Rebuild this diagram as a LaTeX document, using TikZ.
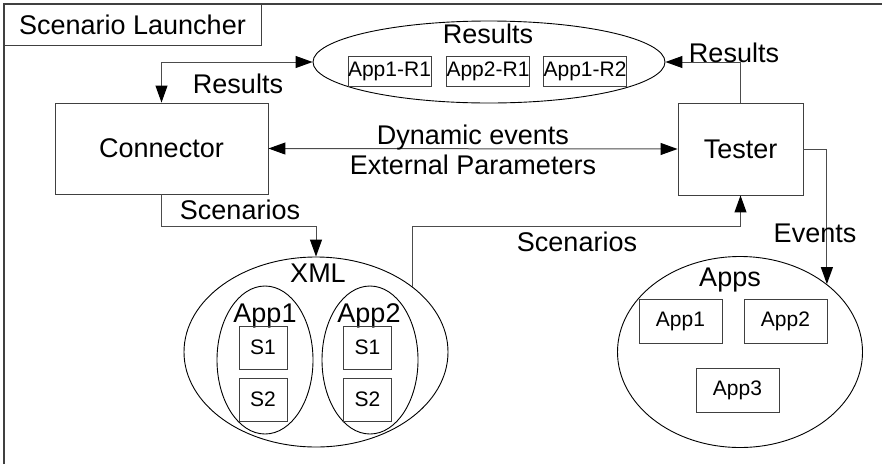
\documentclass[tikz,border=0pt]{standalone}
\usepackage{fontspec}
\setmainfont{Liberation Sans}
\usetikzlibrary{shapes.geometric,arrows.meta}

\tikzset{
  box/.style={draw=black!75, line width=0.9pt, inner sep=0pt},
  ell/.style={ellipse, draw, line width=0.9pt, inner sep=0pt},
  big/.style={font=\fontsize{27}{32}\selectfont},
  small/.style={font=\fontsize{21}{25}\selectfont},
  lbl/.style={big, anchor=base, inner sep=0pt},
  res/.style={box, small, minimum width=83pt, minimum height=30pt},
  app/.style={box, small, minimum width=83pt, minimum height=44pt},
  scen/.style={box, small, minimum width=48pt, minimum height=43pt},
  arr/.style={draw=black!70, line width=1pt},
}

\begin{document}
\begin{tikzpicture}[x=1pt,y=-1pt,>={Triangle[length=17pt,width=12pt,color=black]}]
    \useasboundingbox (0,0) rectangle (882,464);

    % frame
    \draw[black!75, line width=1.2pt] (4,464) -- (4,4) -- (882,4);
    \node[box, big, minimum width=257pt, minimum height=41pt] (launcher) at (132.5,24.5) {Scenario Launcher};

    % results
    \node[ell, minimum width=352pt, minimum height=82pt] (results) at (489,62) {};
    \node[lbl] (resTitle) at (488,43) {Results};
    \node[res] (r1) at (389.5,71) {App1-R1};
    \node[res] (r2) at (488,71) {App2-R1};
    \node[res] (r3) at (585,71) {App1-R2};

    % connector and tester
    \node[box, big, minimum width=213pt, minimum height=91pt] (conn) at (161.5,148.5) {Connector};
    \node[box, big, minimum width=125pt, minimum height=92pt] (tester) at (740.5,149) {Tester};

    % xml scenarios
    \node[ell, minimum width=264pt, minimum height=190pt] (xml) at (316,352) {};
    \node[lbl] (xmlTitle) at (318,282) {XML};
    \node[ell, minimum width=96pt, minimum height=148pt] (xApp1) at (265,360) {};
    \node[ell, minimum width=96pt, minimum height=148pt] (xApp2) at (370,360) {};
    \node[lbl] (xApp1Title) at (265,322) {App1};
    \node[lbl] (xApp2Title) at (369,322) {App2};
    \node[scen] (s11) at (263,347.5) {S1};
    \node[scen] (s12) at (263,399.5) {S2};
    \node[scen] (s21) at (367.5,347.5) {S1};
    \node[scen] (s22) at (367.5,399.5) {S2};

    % apps
    \node[ell, minimum width=245pt, minimum height=191pt] (apps) at (740,352) {};
    \node[lbl] (appsTitle) at (730,286) {Apps};
    \node[app] (a1) at (680.5,321) {App1};
    \node[app] (a2) at (785.5,321) {App2};
    \node[app] (a3) at (737.5,390.5) {App3};

    % links
    \coordinate (bend) at (0,226);
    \draw[arr, <->] (results.west) -| (conn.north);
    \draw[arr, ->] (tester.north) |- (results.east);
    \draw[arr, <->] (conn.east) -- (tester.west);
    \draw[arr, ->] (conn.south) -- (conn.south |- bend) -| (xml.north);
    \draw[arr, ->] (xml.34) -- (xml.34 |- bend) -| (tester.south);
    \draw[arr, ->] (tester.east) -| (apps.38);

    % link labels
    \node[lbl] (resLeft) at (238,93) {Results};
    \node[lbl] (resRight) at (734,62) {Results};
    \node[lbl] (dyn) at (473,144) {Dynamic events};
    \node[lbl] (ext) at (473,174) {External Parameters};
    \node[lbl] (scenLeft) at (240,219) {Scenarios};
    \node[lbl] (scenRight) at (577,251) {Scenarios};
    \node[lbl] (events) at (815,242) {Events};

\end{tikzpicture}
\end{document}
